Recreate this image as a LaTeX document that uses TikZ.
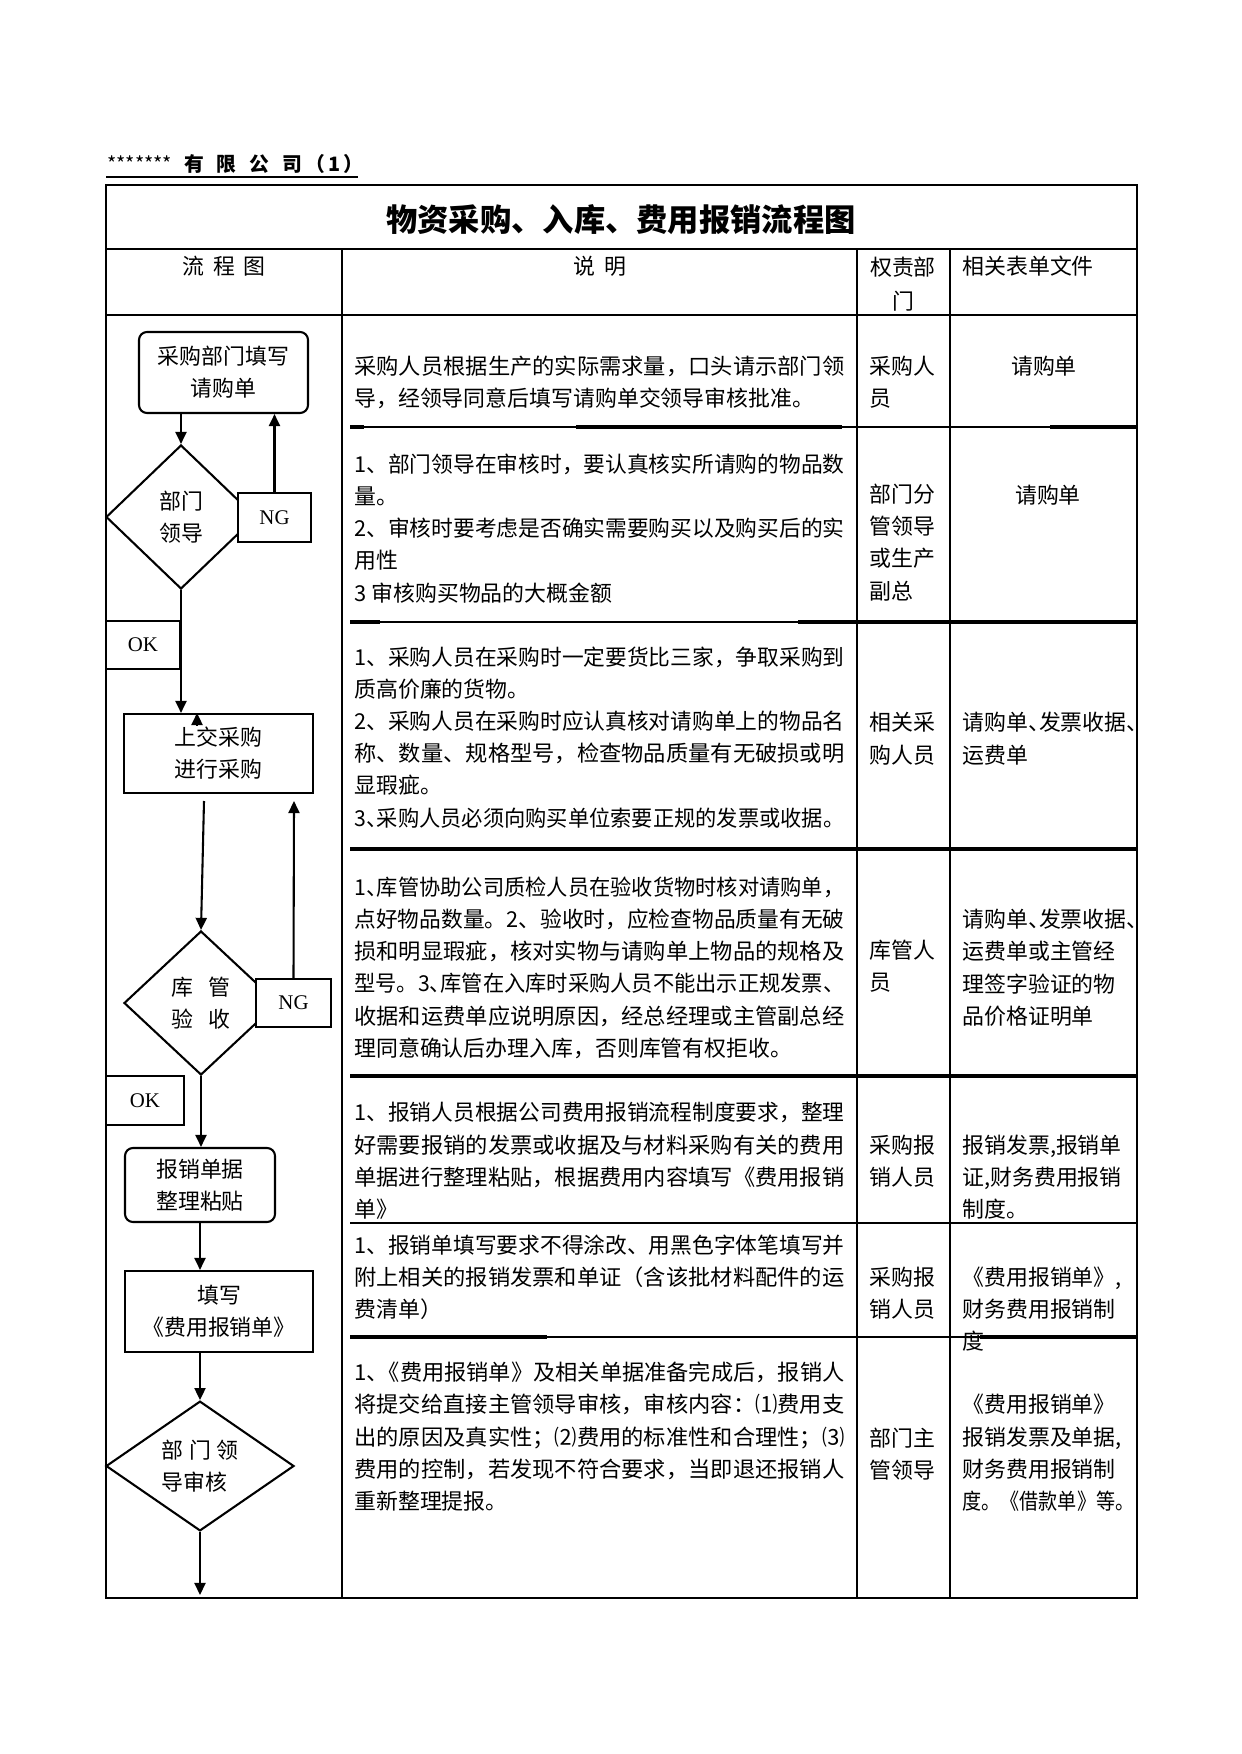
\documentclass[tikz,border=0pt]{standalone}
\usepackage{fontspec}
\usepackage{graphicx}
\setmainfont{Noto Sans CJK SC}
\newfontfamily\latin{Liberation Serif}
\usetikzlibrary{arrows.meta, positioning, shapes.geometric, calc}

\newdimen\px \px=0.4796pt
\newcommand{\body}{\fontsize{10.5pt}{15.35pt}\selectfont}
\newcommand{\dun}{\makebox[.5em][l]{、}}
\newcommand{\fit}[2][490]{\resizebox{#1\px}{\height}{#2}}

\begin{document}
\begin{tikzpicture}[
	  x=0.4796pt, y=-0.4796pt,
	  font=\body,
	  flowbox/.style={draw, line width=1pt, align=center, inner sep=0pt},
	  startbox/.style={flowbox, rounded corners=3.8pt},
	  procbox/.style={flowbox},
	  decide/.style={draw, diamond, line width=1pt, inner sep=0pt, align=center},
	  tag/.style={draw, fill=white, line width=0.8pt, inner sep=0pt,
	    font=\latin\fontsize{10pt}{12pt}\selectfont},
	  desc/.style={anchor=base west, align=left, inner sep=0pt},
	  grid/.style={line width=0.7pt},
	  heavy/.style={line width=1.5pt},
	  arr/.style={-{Triangle[length=5.8pt, width=5.3pt]}, line width=1pt}
	]
	\useasboundingbox (0,0) rectangle (1241,1754);
	
	% Heading above the table
	\node[anchor=base west, inner sep=0pt, font=\fontsize{9.5pt}{11pt}\selectfont] (company) at (107,172)
	  {*******\hspace{.6em}\textbf{有\hspace{.65em}限\hspace{.65em}公\hspace{.65em}司\hspace{.2em}（\hspace{.15em}1\hspace{.15em}）}};
	\draw[grid] (106,177) -- (358,177);
	
	% Table frame
	\draw[grid] (106,185) rectangle (1137,1598);
	\draw[grid] (106,249) -- (1137,249);
	\draw[grid] (106,315) -- (1137,315);
	\foreach \cx in {342,857,950}
	  \draw[grid] (\cx,249) -- (\cx,1598);
	\foreach \ry in {427,622,849,1076,1223,1337}
	  \draw[grid] (350,\ry) -- (1137,\ry);
	% darker pieces of the row lines
	\draw[heavy] (350,427) -- (364,427) (576,427) -- (842,427) (1050,427) -- (1137,427);
	\draw[heavy] (350,622) -- (380,622) (798,622) -- (1137,622);
	\draw[heavy] (350,849) -- (1137,849);
	\draw[heavy] (350,1076) -- (1137,1076);
	\draw[heavy] (350,1337) -- (547,1337) (980,1337) -- (1137,1337);
	
	% Title and column heads (base = last line)
	\node[anchor=base, inner sep=0pt, font=\fontsize{15pt}{18pt}\selectfont\bfseries] (title) at (621,232)
	  {物资采购、入库、费用报销流程图};
	\node[anchor=base, inner sep=0pt] (hflow) at (224,275) {流\hspace{.4em}程\hspace{.4em}图};
	\node[anchor=base, inner sep=0pt] (hdesc) at (600,275) {说\hspace{.4em}明};
	\node[anchor=base, inner sep=0pt, align=center, font=\fontsize{10.5pt}{16.5pt}\selectfont] (hdept) at (903,310) {权责部\\门};
	\node[desc] (hform) at (962,275) {相关表单文件};
	
	% Flow chart
	\node[startbox, minimum width=169\px, minimum height=81\px] (fill) at (223.5,372.5) {采购部门填写\\请购单};
	\node[decide, minimum width=150\px, minimum height=144\px] (lead) at (181,517) {部门\\领导};
	\node[tag, minimum width=73\px, minimum height=49\px] (ng1) at (274.5,517.5) {NG};
	\node[tag, minimum width=74\px, minimum height=48\px] (ok1) at (143,645) {OK};
	\node[procbox, minimum width=189\px, minimum height=79\px] (buy) at (218.5,753.5) {上交采购\\进行采购};
	\node[decide, minimum width=154\px, minimum height=144\px] (check) at (201,1003)
	  {库\hspace{.67em}管\\验\hspace{.67em}收};
	\node[tag, minimum width=75\px, minimum height=48\px] (ng2) at (293.5,1003) {NG};
	\node[tag, minimum width=78\px, minimum height=49\px] (ok2) at (145,1100.5) {OK};
	\node[startbox, minimum width=150\px, minimum height=74\px] (paste) at (200,1185) {报销单据\\整理粘贴};
	\node[procbox, minimum width=188\px, minimum height=81\px] (claim) at (219,1311.5) {填写\\《费用报销单》};
	\node[decide, minimum width=188\px, minimum height=128\px, align=left] (review) at (200,1466)
	  {部\hspace{.27em}门\hspace{.27em}领\\导审核};
	
	\coordinate (gap) at (204,801);
	\coordinate (back) at (294,801);
	\coordinate (out) at (200,1595);
	
	\draw[arr] (lead.north |- fill.south) -- (lead.north);
	\draw[arr] (ng1.north) -- (ng1.north |- fill.south);
	\draw[arr] (lead.south) -- (lead.south |- buy.north);
	\draw[arr] ([xshift=-10.3pt]buy.north) ++(0,12) -- ++(0,-12);
	\draw[arr] (gap) -- (check.north);
	\draw[arr] (ng2.north) -- (back);
	\draw[arr] (check.south) -- (check.south |- paste.north);
	\draw[arr] (paste.south) -- (paste.south |- claim.north);
	\draw[arr] (review.north |- claim.south) -- (review.north);
	\draw[arr] (review.south) -- (out);
	
	% Description column (placed at the baseline of the last line)
	\node[desc] (d1) at (354,407) {\fit{采购人员根据生产的实际需求量，口头请示部门领}\\
	  导，经领导同意后填写请购单交领导审核批准。};
	\node[desc] (d2) at (354,601) {\fit{1、部门领导在审核时，要认真核实所请购的物品数}\\
	  量。\\
	  \fit{2、审核时要考虑是否确实需要购买以及购买后的实}\\
	  用性\\
	  3 审核购买物品的大概金额};
	\node[desc] (d3) at (354,826) {\fit{1、采购人员在采购时一定要货比三家，争取采购到}\\
	  质高价廉的货物。\\
	  \fit{2、采购人员在采购时应认真核对请购单上的物品名}\\
	  \fit{称、数量、规格型号，检查物品质量有无破损或明}\\
	  显瑕疵。\\
	  \fit{3\dun 采购人员必须向购买单位索要正规的发票或收据。}};
	\node[desc] (d4) at (354,1056) {\fit{1\dun 库管协助公司质检人员在验收货物时核对请购单，}\\
	  \fit{点好物品数量。2、验收时，应检查物品质量有无破}\\
	  \fit{损和明显瑕疵，核对实物与请购单上物品的规格及}\\
	  \fit{型号。3\dun 库管在入库时采购人员不能出示正规发票、}\\
	  \fit{收据和运费单应说明原因，经总经理或主管副总经}\\
	  理同意确认后办理入库，否则库管有权拒收。};
	\node[desc] (d5) at (354,1217) {\fit{1、报销人员根据公司费用报销流程制度要求，整理}\\
	  \fit{好需要报销的发票或收据及与材料采购有关的费用}\\
	  \fit{单据进行整理粘贴，根据费用内容填写《费用报销}\\
	  单》};
	\node[desc] (d6) at (354,1317) {\fit{1、报销单填写要求不得涂改、用黑色字体笔填写并}\\
	  \fit{附上相关的报销发票和单证（含该批材料配件的运}\\
	  费清单）};
	\node[desc] (d7) at (354,1509) {\fit{1\dun《费用报销单》及相关单据准备完成后，报销人}\\
	  \fit{将提交给直接主管领导审核，审核内容：⑴费用支}\\
	  \fit{出的原因及真实性；⑵费用的标准性和合理性；⑶}\\
	  \fit{费用的控制，若发现不符合要求，当即退还报销人}\\
	  重新整理提报。};
	
	% Responsible department
	\node[desc] (p1) at (869,407) {采购人\\员};
	\node[desc] (p2) at (869,599) {部门分\\管领导\\或生产\\副总};
	\node[desc] (p3) at (869,763) {相关采\\购人员};
	\node[desc] (p4) at (869,990) {库管人\\员};
	\node[desc] (p5) at (869,1185) {采购报\\销人员};
	\node[desc] (p6) at (869,1317) {采购报\\销人员};
	\node[desc] (p7) at (869,1478) {部门主\\管领导};
	
	% Related forms
	\node[anchor=base, inner sep=0pt] (f1) at (1044,375) {请购单};
	\node[anchor=base, inner sep=0pt] (f2) at (1048,503) {请购单};
	\node[desc] (f3) at (962,763) {请购单\dun 发票收据\dun\\运费单};
	\node[desc] (f4) at (962,1024) {请购单\dun 发票收据\dun\\运费单或主管经\\理签字验证的物\\品价格证明单};
	\node[desc] (f5) at (962,1217) {报销发票,报销单\\证,财务费用报销\\制度。};
	\node[desc] (f6) at (962,1349) {《费用报销单》,\\财务费用报销制\\度};
	\node[desc] (f7) at (962,1509) {《费用报销单》\\报销发票及单据,\\财务费用报销制\\\fit[172]{度。《借款单》等。}};
	
	\end{tikzpicture}
\end{document}
